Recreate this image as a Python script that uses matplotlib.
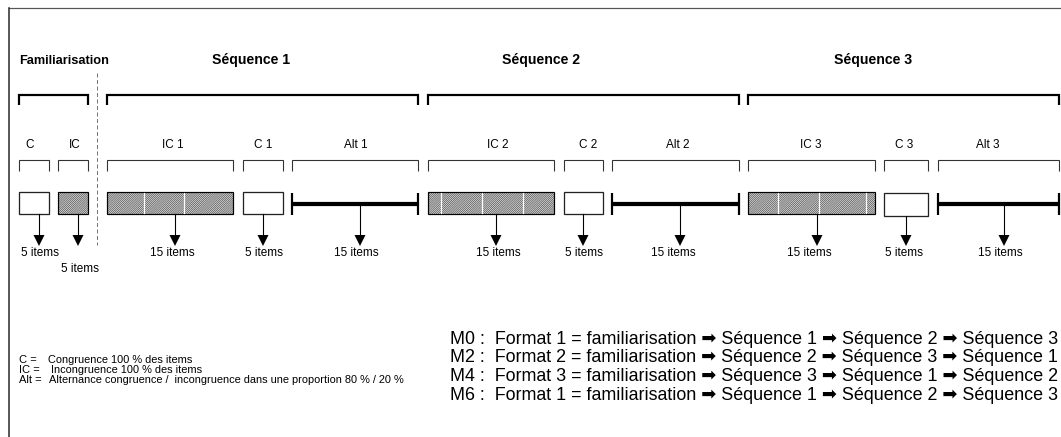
import matplotlib.pyplot as plt
from matplotlib.patches import Rectangle, Polygon

plt.rcParams['font.family'] = ['Liberation Sans', 'DejaVu Sans']
plt.rcParams['hatch.linewidth'] = 0.5

# --- content of the diagram ---
fam_title = 'Familiarisation'
fam_labels = ['C', 'IC']
fam_items = [5, 5]

seq_titles = ['Séquence 1', 'Séquence 2', 'Séquence 3']
block_kinds = ['IC', 'C', 'Alt']
block_items = [15, 5, 15]

legend_codes = ['C', 'IC', 'Alt']
legend_texts = ['Congruence 100 % des items',
                'Incongruence 100 % des items',
                'Alternance congruence /  incongruence dans une proportion 80 % / 20 %']

order_codes = ['M0', 'M2', 'M4', 'M6']
order_formats = [1, 2, 3, 1]
order_seqs = [[1, 2, 3], [2, 3, 1], [3, 1, 2], [1, 2, 3]]

# --- layout (pixel coordinates of the 1061x437 canvas) ---
fam_x = [(19, 49), (58, 88)]
fam_arrow_x = [39, 78]
fam_label_x = [30, 75]
fam_item_xy = [(40, 253), (80, 269)]
fam_hatch_gaps = [[62], []]

seq_x = [[(107, 233), (243, 283), (292, 418)],
         [(428, 554), (564, 603), (612, 739)],
         [(748, 875), (884, 928), (938, 1059)]]
seq_arrow_x = [[175, 263, 360], [496, 583, 680], [817, 906, 1004]]
seq_label_x = [[173, 263, 356], [498, 588, 678], [811, 904, 988]]
seq_item_x = [[172, 264, 356], [498, 584, 673], [809, 904, 1000]]
seq_title_x = [251, 541, 873]
hatch_gaps = [[144, 184], [441, 482, 523], [778, 819, 866]]

PX = 0.72  # points per pixel at dpi 100
BOX_TOP, BOX_BOT = 192, 214

fig = plt.figure(figsize=(10.61, 4.37), dpi=100)
ax = fig.add_axes([0, 0, 1, 1])
ax.set_xlim(0, 1061)
ax.set_ylim(437, 0)
ax.axis('off')

# frame
ax.plot([9, 1061], [8, 8], color='#555555', lw=1.2 * PX)
ax.plot([9, 9], [8, 437], color='#333333', lw=1.6 * PX)


def bracket(x0, x1, top, bottom, lw, color='black'):
    ax.plot([x0, x0, x1, x1], [bottom, top, top, bottom], color=color,
            lw=lw * PX, solid_joinstyle='miter', solid_capstyle='butt')


def down_arrow(x, y0):
    ax.plot([x, x], [y0, 236], color='black', lw=1.1 * PX)
    ax.add_patch(Polygon([(x - 5.5, 235), (x + 5.5, 235), (x, 246)],
                         closed=True, color='black', lw=0))


def block(kind, x0, x1, gaps, top=BOX_TOP, bot=BOX_BOT):
    if kind == 'Alt':
        ym = 204
        ax.plot([x0, x1], [ym, ym], color='black', lw=4.2 * PX, solid_capstyle='butt')
        for xe in (x0, x1):
            ax.plot([xe, xe], [193, 215], color='black', lw=2.2 * PX, solid_capstyle='butt')
    elif kind == 'IC':
        ax.add_patch(Rectangle((x0, top), x1 - x0, bot - top, facecolor='#e2e2e2',
                               edgecolor='#505050', hatch='/' * 16, lw=0))
        for g in gaps:
            ax.plot([g, g], [top + 1, bot - 1], color='white', lw=1.2 * PX)
        ax.add_patch(Rectangle((x0, top), x1 - x0, bot - top, fill=False,
                               edgecolor='black', lw=1.2 * PX))
    else:
        ax.add_patch(Rectangle((x0, top), x1 - x0, bot - top, facecolor='white',
                               edgecolor='#222222', lw=1.3 * PX))


# familiarisation part
ax.text(64.5, 61, fam_title, ha='center', va='center', fontsize=9.2, fontweight='bold')
bracket(fam_x[0][0], fam_x[1][1], 95, 105, 2.2)
ax.plot([97, 97], [73, 245], color='#777777', lw=1.0 * PX, ls=(0, (4, 2.5)))
for i, lab in enumerate(fam_labels):
    x0, x1 = fam_x[i]
    ax.text(fam_label_x[i], 145, lab, ha='center', va='center', fontsize=8.5)
    bracket(x0, x1, 160, 171, 1.1, color='#333333')
    block(lab, x0, x1, fam_hatch_gaps[i])
    down_arrow(fam_arrow_x[i], BOX_BOT)
    ix, iy = fam_item_xy[i]
    ax.text(ix, iy, f'{fam_items[i]} items', ha='center', va='center', fontsize=8.5)

# the three sequences
for s, title in enumerate(seq_titles):
    ax.text(seq_title_x[s], 60, title, ha='center', va='center', fontsize=10.2, fontweight='bold')
    bracket(seq_x[s][0][0], seq_x[s][2][1], 95, 105, 2.2)
    for b, kind in enumerate(block_kinds):
        x0, x1 = seq_x[s][b]
        ax.text(seq_label_x[s][b], 145, f'{kind} {s + 1}', ha='center', va='center', fontsize=8.5)
        bracket(x0, x1, 160, 171, 1.1, color='#333333')
        top, bot = (193, 216) if (s == 2 and kind == 'C') else (BOX_TOP, BOX_BOT)
        block(kind, x0, x1, hatch_gaps[s] if kind == 'IC' else [], top, bot)
        down_arrow(seq_arrow_x[s][b], bot if kind != 'Alt' else 206)
        ax.text(seq_item_x[s][b], 253, f'{block_items[b]} items', ha='center', va='center',
                fontsize=8.5)

# abbreviations
desc_x = [48, 51, 49]
for i, code in enumerate(legend_codes):
    y = 363 + i * 10
    ax.text(19, y, f'{code} =', ha='left', va='baseline', fontsize=8.0)
    ax.text(desc_x[i], y, legend_texts[i], ha='left', va='baseline', fontsize=7.9)

# presentation orders
for i, code in enumerate(order_codes):
    y = 339.5 + i * 18.5
    seqs = ' \u27a1 '.join(f'Séquence {n}' for n in order_seqs[i])
    line = f'{code} :  Format {order_formats[i]} = familiarisation \u27a1 {seqs}'
    ax.text(1058, y, line, ha='right', va='center', fontsize=12.9)

fig.savefig('out.png', dpi=100)
